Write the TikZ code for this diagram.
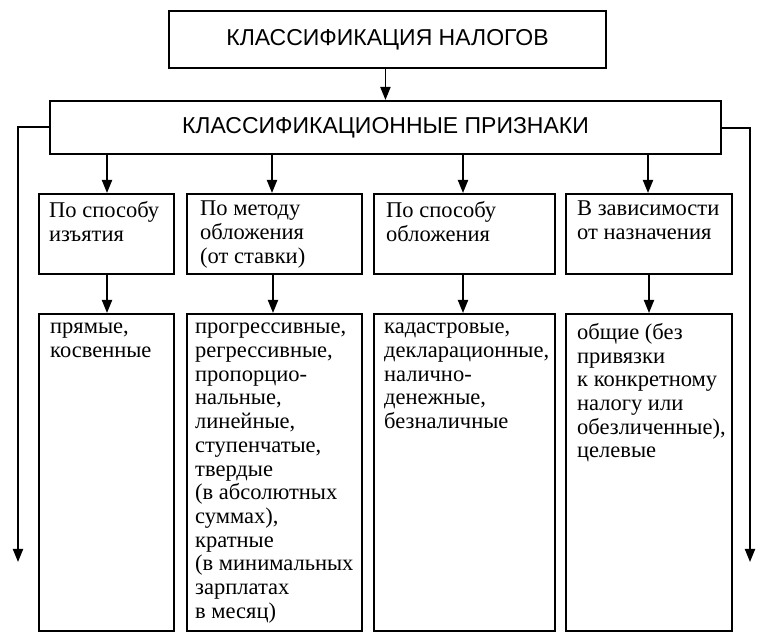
\documentclass[tikz,border=0pt]{standalone}
\usepackage{fontspec}
\setmainfont{Liberation Serif}
\newfontfamily\headfont{Liberation Sans}
\usetikzlibrary{arrows.meta}
\begin{document}
\begin{tikzpicture}[x=1pt,y=-1pt,
  box/.style={draw,line width=1.9pt,inner sep=0pt,anchor=north west},
  arr/.style={line width=1.9pt,-{Triangle[width=10pt,length=13pt]}},
  txt/.style={anchor=north west,inner sep=0pt,align=left,font=\fontsize{22.5}{23.7}\selectfont},
  ttl/.style={font=\headfont\fontsize{23}{26}\selectfont}]
\useasboundingbox[fill=white] (0,0) rectangle (764,644);
% title boxes
\node[box,minimum width=437pt,minimum height=57pt] (top) at (168,10) {};
\node[ttl] (toptxt) at (top.center) {КЛАССИФИКАЦИЯ НАЛОГОВ};
\node[box,minimum width=671pt,minimum height=53pt] (sec) at (49,100) {};
\node[ttl] (sectxt) at (sec.center) {КЛАССИФИКАЦИОННЫЕ ПРИЗНАКИ};
% header boxes
\node[box,minimum width=135pt,minimum height=80pt] (h1) at (38,193) {};
\node[box,minimum width=175pt,minimum height=80pt] (h2) at (186,193) {};
\node[box,minimum width=181pt,minimum height=80pt] (h3) at (373,193) {};
\node[box,minimum width=166pt,minimum height=80pt] (h4) at (565,193) {};
% content boxes
\node[box,minimum width=135pt,minimum height=317pt] (c1) at (38,313) {};
\node[box,minimum width=175pt,minimum height=317pt] (c2) at (186,313) {};
\node[box,minimum width=181pt,minimum height=317pt] (c3) at (373,313) {};
\node[box,minimum width=166pt,minimum height=317pt] (c4) at (565,313) {};
% header texts
\node[txt] (t1) at (49,201) {По способу\\изъятия};
\node[txt] (t2) at (200,201) {По методу\\обложения\\(от ставки)};
\node[txt] (t3) at (386,201) {По способу\\обложения};
\node[txt] (t4) at (577,201) {В зависимости\\от назначения};
% content texts
\node[txt] (k1) at (50,323) {прямые,\\косвенные};
\node[txt] (k2) at (195,323) {прогрессивные,\\регрессивные,\\пропорцио-\\нальные,\\линейные,\\ступенчатые,\\твердые\\(в абсолютных\\суммах),\\кратные\\(в минимальных\\зарплатах\\в месяц)};
\node[txt] (k3) at (384,323) {кадастровые,\\декларационные,\\налично-\\денежные,\\безналичные};
\node[txt] (k4) at (577,323) {общие (без\\привязки\\к конкретному\\налогу или\\обезличенные),\\целевые};
% connectors
\draw[arr] (top.south -| toptxt.center) ++(-2,0) coordinate (ta) -- (ta |- sec.north);
\foreach \x/\h in {107/h1,272/h2,463/h3,648/h4}{
  \draw[arr] (\x,153) coordinate (s) -- (s |- \h.north);
}
\foreach \x/\h/\c in {107/h1/c1,273/h2/c2,463/h3/c3,649/h4/c4}{
  \draw[arr] (\x,273) coordinate (s) -- (s |- \c.north);
}
\coordinate (lend) at (18,562);
\coordinate (rend) at (750,562);
\draw[arr] (sec.west |- 0,127) -- (lend |- 0,127) -- (lend);
\draw[arr] (sec.east |- 0,128) -- (rend |- 0,128) -- (rend);
\end{tikzpicture}
\end{document}
